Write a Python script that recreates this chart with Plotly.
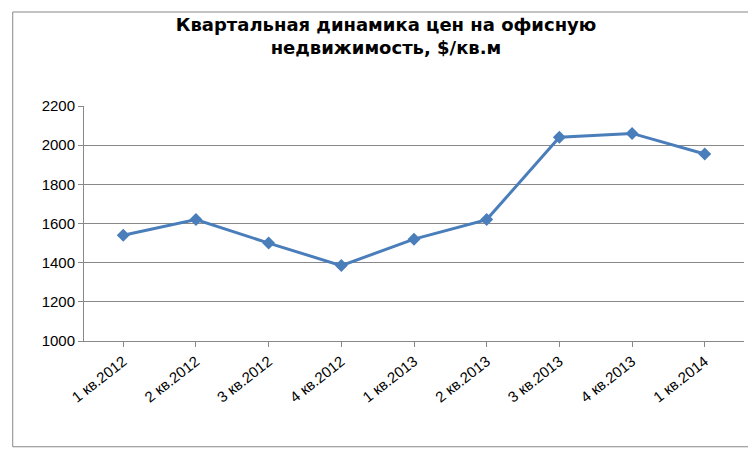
import plotly.graph_objects as go

quarters = ["1 кв.2012", "2 кв.2012", "3 кв.2012", "4 кв.2012", "1 кв.2013",
            "2 кв.2013", "3 кв.2013", "4 кв.2013", "1 кв.2014"]
prices = [1540, 1620, 1500, 1385, 1520, 1620, 2040, 2060, 1955]

fig = go.Figure(go.Scatter(
    x=quarters, y=prices, mode="lines+markers",
    line=dict(color="#4a7ebb", width=3),
    marker=dict(symbol="diamond", size=10, color="#4a7ebb"),
))
fig.update_layout(
    width=756, height=456,
    margin=dict(l=76, r=20, t=98, b=123, autoexpand=False),
    paper_bgcolor="white", plot_bgcolor="white",
    font=dict(family="DejaVu Sans", size=14, color="black"),
    title=dict(text="<b>Квартальная динамика цен на офисную<br>недвижимость, $/кв.м</b>",
               x=0.5, xanchor="center", y=0.95, yanchor="top", font=dict(size=18)),
    showlegend=False,
    shapes=[dict(type="rect", xref="paper", yref="paper", x0=-0.108, x1=1.022,
                 y0=-0.45, y1=1.4, line=dict(color="#888888", width=1))],
)
fig.update_xaxes(showline=True, linecolor="#888888", tickangle=-38,
                 ticks="outside", tickcolor="#888888", ticklen=5, showgrid=False,
                 tickfont=dict(family="Liberation Sans", size=15), automargin=False)
fig.update_yaxes(range=[1000, 2200], dtick=200, showgrid=True, gridcolor="#888888",
                 showline=True, linecolor="#888888", zeroline=False,
                 ticks="outside", tickcolor="#888888", ticklen=5,
                 tickfont=dict(family="Liberation Sans", size=15), automargin=False)
fig.write_html("out.html")
